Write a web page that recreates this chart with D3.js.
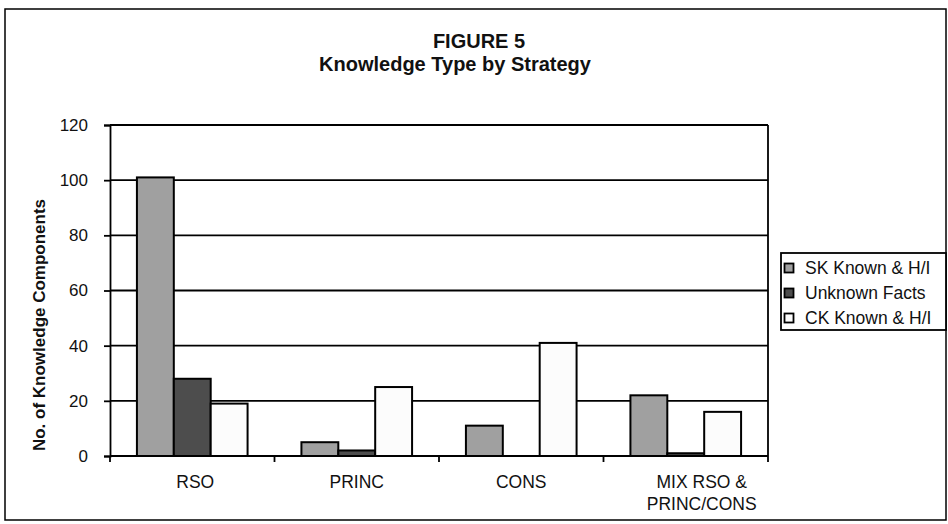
<html>
<script src="https://d3js.org/d3.v7.min.js"></script>
<style>
  body { margin: 0; background: #fff; }
  text { font-family: "Liberation Sans", Arial, sans-serif; fill: #111; }
</style>
<body>
<script>
// chart values
let categories = ["RSO", "PRINC", "CONS", "MIX RSO & PRINC/CONS"];
let series = ["SK Known & H/I", "Unknown Facts", "CK Known & H/I"];
let skKnown = [101, 5, 11, 22];
let unknownFacts = [28, 2, 0, 1];
let ckKnown = [19, 25, 41, 16];
let yTicks = [0, 20, 40, 60, 80, 100, 120];
let colors = ["#a0a0a0", "#4d4d4d", "#fcfcfc"];

let width = 948, height = 524;
let margin = {top: 125, left: 110, right: 180, bottom: 68};

let svg = d3.select("body").append("svg")
    .attr("width", width)
    .attr("height", height);

// outer frame
svg.append("rect")
    .attr("x", 5).attr("y", 9)
    .attr("width", 941).attr("height", 511)
    .attr("fill", "none").attr("stroke", "#000").attr("stroke-width", 1.5);

svg.append("text").attr("x", 479).attr("y", 48)
    .attr("text-anchor", "middle").attr("font-weight", "bold").attr("font-size", 20)
    .text("FIGURE 5");
svg.append("text").attr("x", 455).attr("y", 71)
    .attr("text-anchor", "middle").attr("font-weight", "bold").attr("font-size", 20)
    .text("Knowledge Type by Strategy");

let x0 = d3.scaleBand().domain(categories)
    .range([margin.left, width - margin.right]);
let x1 = d3.scaleBand().domain(series)
    .range([0, x0.bandwidth()]).paddingOuter(0.73).paddingInner(0);
let y = d3.scaleLinear().domain([0, 120])
    .range([height - margin.bottom, margin.top]);

// gridlines
svg.append("g").selectAll("line").data(yTicks.slice(1)).join("line")
    .attr("x1", margin.left).attr("x2", width - margin.right)
    .attr("y1", d => y(d)).attr("y2", d => y(d))
    .attr("stroke", "#000").attr("stroke-width", 1.8);

// right border of plot
svg.append("line")
    .attr("x1", width - margin.right).attr("x2", width - margin.right)
    .attr("y1", y(120)).attr("y2", y(0))
    .attr("stroke", "#000").attr("stroke-width", 1.8);

let rows = categories.map((c, i) => ({cat: c, vals: [skKnown[i], unknownFacts[i], ckKnown[i]]}));

svg.append("g").selectAll("g").data(rows).join("g")
    .attr("transform", d => `translate(${x0(d.cat)},0)`)
    .selectAll("rect").data(d => d.vals.map((v, j) => ({s: series[j], v: v, j: j})))
    .join("rect")
    .filter(d => d.v > 0)
    .attr("x", d => x1(d.s))
    .attr("width", x1.bandwidth())
    .attr("y", d => y(d.v))
    .attr("height", d => y(0) - y(d.v))
    .attr("fill", d => colors[d.j])
    .attr("stroke", "#000").attr("stroke-width", 2);

// y axis
let yAxis = svg.append("g")
    .attr("transform", `translate(${margin.left},0)`)
    .call(d3.axisLeft(y).tickValues(yTicks).tickSize(6).tickPadding(16));
yAxis.select(".domain").attr("stroke-width", 1.8);
yAxis.selectAll(".tick line").attr("stroke-width", 1.8);
yAxis.selectAll("text").attr("font-size", 17).attr("font-family", "Liberation Sans, Arial")
    .attr("fill", "#111");

// x axis with ticks at category boundaries
let xg = svg.append("g").attr("transform", `translate(0,${y(0)})`);
xg.append("line").attr("x1", margin.left).attr("x2", width - margin.right)
    .attr("stroke", "#000").attr("stroke-width", 1.8);
let bounds = categories.map(c => x0(c)).concat([x0.range()[1]]);
xg.selectAll(".xt").data(bounds).join("line")
    .attr("x1", d => d).attr("x2", d => d).attr("y1", 0).attr("y2", 6)
    .attr("stroke", "#000").attr("stroke-width", 1.8);

let labelLines = {"MIX RSO & PRINC/CONS": ["MIX RSO &", "PRINC/CONS"]};
let labelShift = {"MIX RSO & PRINC/CONS": 16, "RSO": 3};
xg.selectAll(".xl").data(categories).join("text")
    .attr("y", 32)
    .attr("text-anchor", "middle").attr("font-size", 17.5)
    .each(function(d) {
        let cx = x0(d) + x0.bandwidth() / 2 + (labelShift[d] || 0);
        let lines = labelLines[d] || [d];
        d3.select(this).selectAll("tspan").data(lines).join("tspan")
            .attr("x", cx)
            .attr("dy", (l, i) => i ? 22 : 0)
            .text(l => l);
    });

svg.append("text")
    .attr("transform", `translate(45,325) rotate(-90)`)
    .attr("text-anchor", "middle").attr("font-weight", "bold").attr("font-size", 17)
    .text("No. of Knowledge Components");

// legend
let lg = svg.append("g");
lg.append("rect").attr("x", 781).attr("y", 253).attr("width", 165).attr("height", 77)
    .attr("fill", "#fff").attr("stroke", "#000").attr("stroke-width", 1.8);
let items = lg.selectAll(".li").data(series).join("g")
    .attr("transform", (d, i) => `translate(784,${268 + i * 25})`);
items.append("rect").attr("x", 0.5).attr("y", -4.5).attr("width", 9).attr("height", 9)
    .attr("fill", (d, i) => colors[i]).attr("stroke", "#000").attr("stroke-width", 1.8);
items.append("text").attr("x", 21).attr("y", 6).attr("font-size", 17.5).text(d => d);
</script>
</body>
</html>
